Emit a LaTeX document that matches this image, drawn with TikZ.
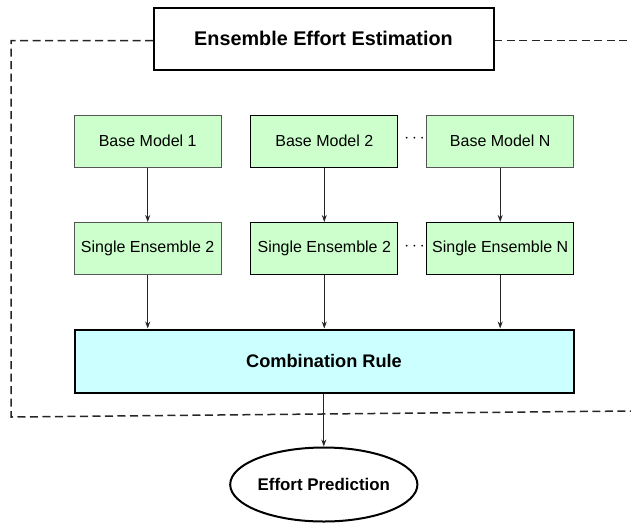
\documentclass[tikz,border=0pt]{standalone}
\usepackage{fontspec}
\setmainfont{Liberation Sans}
\usetikzlibrary{shapes.geometric,arrows.meta}
\definecolor{boxgreen}{HTML}{CCFFCC}
\definecolor{boxcyan}{HTML}{CCFFFF}
\definecolor{edgegray}{HTML}{555555}
\begin{document}
\begin{tikzpicture}[x=1pt,y=-1pt,
  stagebox/.style={rectangle, draw=edgegray, fill=boxgreen, line width=1pt,
    minimum width=147pt, minimum height=52pt, inner sep=0pt,
    font=\fontsize{16}{19}\selectfont},
  titlebox/.style={rectangle, draw=black, fill=white, line width=2pt,
    minimum width=340pt, minimum height=62pt, inner sep=0pt,
    font=\bfseries\fontsize{19.8}{23}\selectfont},
  rulebox/.style={rectangle, draw=black, fill=boxcyan, line width=2pt,
    minimum width=499pt, minimum height=63pt, inner sep=0pt,
    font=\bfseries\fontsize{18.2}{22}\selectfont},
  outcome/.style={ellipse, draw=black, fill=white, line width=2pt,
    minimum width=176pt, minimum height=74pt, inner sep=0pt,
    font=\bfseries\fontsize{16.9}{20}\selectfont},
  flow/.style={-{Stealth[length=7pt,width=5pt]}, line width=0.9pt, draw=black!85},
  frame/.style={dashed, dash pattern=on 8pt off 4.5pt, line width=1.5pt, draw=black!85},
  gap/.style={font=\fontsize{17}{20}\selectfont, inner sep=0pt}]

\useasboundingbox (0,0) rectangle (631,523);

% ensemble boundary (dashed frame, drawn first so boxes cover it)
\coordinate (fTL) at (11,40.5);
\coordinate (fBL) at (11,417);
\coordinate (fBR) at (631,411);
\coordinate (fTR) at (631,40.5);
\coordinate (fTa) at (153,40.5);
\coordinate (fTb) at (494,40.5);
\draw[frame] (fTa) -- (fTL) -- (fBL) -- (fBR);
\draw[frame] (fTb) -- (fTR);

% title
\node[titlebox] (title) at (323.5,38.5) {Ensemble Effort Estimation};

% base models
\node[stagebox] (b1) at (147.7,141) {Base Model 1};
\node[stagebox, draw=black] (b2) at (324.3,141) {Base Model 2};
\node[stagebox] (bN) at (500.2,141) {Base Model N};
\node[gap] (d1) at (414.5,139) {$\cdots$};

% single ensembles
\node[stagebox] (s1) at (147.7,248.5) {Single Ensemble 2};
\node[stagebox, draw=black] (s2) at (324.3,248.5) {Single Ensemble 2};
\node[stagebox, draw=black] (sN) at (500.2,248.5) {Single Ensemble N};
\node[gap] (d2) at (414.5,246.5) {$\cdots$};

% combination rule
\node[rulebox] (comb) at (324,361) {Combination Rule};

% prediction
\node[outcome] (pred) at (323.8,484.5) {Effort Prediction};

% connectors
\draw[flow] (b1) -- (s1);
\draw[flow] (b2) -- (s2);
\draw[flow] (bN) -- (sN);
\draw[flow] (s1.south) -- (s1.south |- comb.north);
\draw[flow] (s2.south) -- (s2.south |- comb.north);
\draw[flow] (sN.south) -- (sN.south |- comb.north);
\draw[flow] (comb.south -| pred.north) -- (pred.north);
\end{tikzpicture}
\end{document}
